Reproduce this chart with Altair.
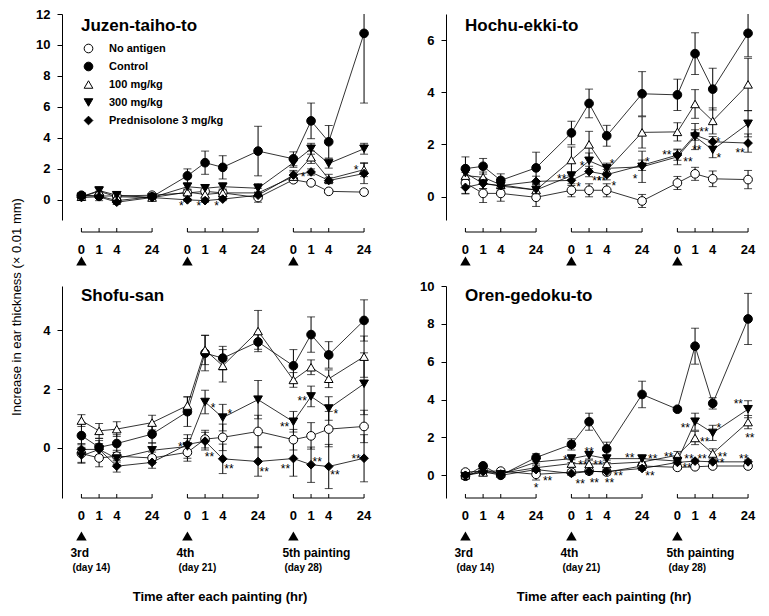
import altair as alt
import pandas as pd

# ---------------- data ----------------
hours = [0, 1, 4, 24]
paintings = ["3rd", "4th", "5th painting"]
days = ["(day 14)", "(day 21)", "(day 28)"]
series = ["No antigen", "Control", "100 mg/kg", "300 mg/kg", "Prednisolone 3 mg/kg"]
panel_names = ["Juzen-taiho-to", "Hochu-ekki-to", "Shofu-san", "Oren-gedoku-to"]

# 12 time points per series: (3rd: 0,1,4,24h), (4th: 0,1,4,24h), (5th: 0,1,4,24h)
juzen_mean = {
    "No antigen": [0.25, 0.25, 0.25, 0.3, 0.45, 0.55, 0.45, 0.15, 1.3, 1.1, 0.55, 0.5],
    "Control": [0.3, 0.25, -0.05, 0.2, 1.55, 2.4, 2.1, 3.15, 2.65, 5.1, 3.75, 10.75],
    "100 mg/kg": [0.2, 0.55, 0.2, 0.15, 0.5, 0.35, 0.45, 0.45, 1.5, 2.75, 1.35, 1.95],
    "300 mg/kg": [0.2, 0.6, 0.3, 0.15, 0.85, 0.75, 0.85, 0.75, 2.4, 3.3, 2.35, 3.3],
    "Prednisolone 3 mg/kg": [0.15, 0.2, -0.15, 0.15, 0.0, -0.05, 0.05, 0.3, 1.6, 1.8, 1.25, 1.7],
}
juzen_err = {
    "No antigen": [0.1, 0.1, 0.1, 0.1, 0.2, 0.2, 0.2, 0.3, 0.15, 0.15, 0.1, 0.1],
    "Control": [0.1, 0.3, 0.2, 0.1, 0.45, 0.75, 0.75, 1.6, 0.45, 1.15, 1.05, 4.5],
    "100 mg/kg": [0.1, 0.25, 0.15, 0.1, 0.2, 0.2, 0.25, 0.3, 0.3, 0.4, 0.3, 0.45],
    "300 mg/kg": [0.1, 0.25, 0.2, 0.1, 0.2, 0.2, 0.25, 0.3, 0.3, 0.35, 0.3, 0.35],
    "Prednisolone 3 mg/kg": [0.1, 0.1, 0.15, 0.1, 0.1, 0.1, 0.1, 0.2, 0.3, 0.2, 0.2, 0.65],
}
hochu_mean = {
    "No antigen": [0.52, 0.12, 0.12, -0.03, 0.24, 0.24, 0.24, -0.17, 0.52, 0.87, 0.68, 0.65],
    "Control": [1.07, 1.16, 0.62, 1.1, 2.44, 3.57, 2.33, 3.94, 3.9, 5.48, 4.12, 6.26],
    "100 mg/kg": [0.8, 0.74, 0.45, 0.25, 1.4, 2.0, 1.0, 2.46, 2.48, 3.55, 2.9, 4.3],
    "300 mg/kg": [0.9, 0.5, 0.4, 0.25, 0.8, 1.37, 1.08, 1.14, 1.52, 2.3, 1.79, 2.79],
    "Prednisolone 3 mg/kg": [0.35, 0.5, 0.42, 0.58, 0.62, 0.96, 0.84, 1.2, 1.59, 2.36, 2.1, 2.05],
}
hochu_err = {
    "No antigen": [0.4, 0.35, 0.3, 0.35, 0.25, 0.25, 0.25, 0.25, 0.25, 0.25, 0.3, 0.35],
    "Control": [0.45, 0.3, 0.25, 0.6, 0.45, 0.55, 0.4, 0.85, 0.6, 0.8, 0.8, 0.9],
    "100 mg/kg": [0.2, 0.2, 0.2, 0.2, 0.5, 0.5, 0.2, 0.6, 0.35, 0.55, 0.5, 1.0],
    "300 mg/kg": [0.2, 0.2, 0.2, 0.2, 0.15, 0.3, 0.2, 0.6, 0.3, 0.5, 0.3, 0.5],
    "Prednisolone 3 mg/kg": [0.25, 0.2, 0.2, 0.2, 0.2, 0.2, 0.2, 0.2, 0.2, 0.2, 0.2, 0.35],
}
shofu_mean = {
    "No antigen": [-0.19, -0.34, -0.28, -0.34, -0.15, 0.3, 0.36, 0.56, 0.28, 0.41, 0.64, 0.73],
    "Control": [0.42, 0.02, 0.15, 0.47, 1.23, 3.22, 3.05, 3.6, 2.79, 3.85, 3.16, 4.33],
    "100 mg/kg": [0.93, 0.58, 0.64, 0.86, 1.44, 3.33, 2.79, 3.97, 2.31, 2.74, 2.35, 3.1],
    "300 mg/kg": [-0.27, -0.05, -0.36, -0.08, 0.05, 1.56, 1.03, 1.64, 0.89, 1.75, 1.34, 2.18],
    "Prednisolone 3 mg/kg": [-0.05, -0.05, -0.62, -0.49, 0.12, 0.23, -0.37, -0.46, -0.36, -0.57, -0.63, -0.35],
}
shofu_err = {
    "No antigen": [0.3, 0.3, 0.2, 0.2, 0.3, 0.3, 0.45, 0.55, 0.35, 0.45, 0.6, 0.55],
    "Control": [0.4, 0.3, 0.3, 0.3, 0.5, 0.6, 0.4, 0.25, 0.55, 0.6, 0.45, 0.7],
    "100 mg/kg": [0.2, 0.25, 0.25, 0.25, 0.3, 0.5, 0.55, 0.7, 0.25, 0.25, 0.3, 0.7],
    "300 mg/kg": [0.25, 0.3, 0.2, 0.25, 0.4, 0.4, 0.45, 0.65, 0.35, 0.35, 0.4, 1.05],
    "Prednisolone 3 mg/kg": [0.2, 0.2, 0.2, 0.2, 0.2, 0.3, 0.5, 0.5, 0.6, 0.6, 0.75, 0.8],
}
oren_mean = {
    "No antigen": [0.17, 0.22, 0.22, 0.05, 0.16, 0.22, 0.17, 0.49, 0.42, 0.45, 0.49, 0.49],
    "Control": [-0.05, 0.5, 0.0, 0.94, 1.63, 2.83, 1.4, 4.27, 3.49, 6.82, 3.8, 8.26],
    "100 mg/kg": [0.0, 0.15, 0.1, 0.4, 0.62, 0.6, 0.6, 0.7, 1.06, 1.97, 1.15, 2.81],
    "300 mg/kg": [-0.05, 0.3, 0.05, 0.7, 0.88, 1.06, 0.88, 0.88, 0.75, 2.83, 2.24, 3.49],
    "Prednisolone 3 mg/kg": [0.0, 0.2, 0.0, 0.3, 0.1, 0.2, 0.2, 0.36, 0.68, 0.75, 0.71, 0.71],
}
oren_err = {
    "No antigen": [0.1, 0.1, 0.1, 0.3, 0.15, 0.15, 0.15, 0.15, 0.1, 0.1, 0.1, 0.1],
    "Control": [0.1, 0.1, 0.1, 0.2, 0.3, 0.45, 0.35, 0.7, 0.1, 0.95, 0.3, 1.35],
    "100 mg/kg": [0.1, 0.1, 0.1, 0.2, 0.2, 0.2, 0.2, 0.2, 0.2, 0.35, 0.25, 0.35],
    "300 mg/kg": [0.1, 0.1, 0.1, 0.2, 0.2, 0.2, 0.2, 0.2, 0.2, 0.45, 0.4, 0.45],
    "Prednisolone 3 mg/kg": [0.1, 0.1, 0.1, 0.1, 0.1, 0.1, 0.1, 0.1, 0.1, 0.1, 0.1, 0.1],
}

# significance marks: (time-point index, value, horizontal shift in x units, text)
juzen_stars = [(4, -0.2, -0.35, "*"), (5, -0.2, -0.35, "*"), (6, -0.2, -0.35, "*"),
               (9, 1.7, -0.45, "*"), (11, 2.1, -0.45, "*")]
hochu_stars = [(4, 0.8, -0.55, "**"), (4, 0.48, 0.4, "*"), (5, 1.27, -0.4, "*"),
               (5, 0.7, 0.45, "**"), (6, 0.7, -0.3, "**"), (6, 1.35, 0.3, "*"),
               (6, 0.5, 0.4, "*"), (7, 1.45, 0.3, "*"), (7, 0.8, -0.4, "*"),
               (8, 1.7, -0.6, "**"), (8, 1.45, 0.6, "**"), (9, 2.6, 0.5, "**"),
               (9, 1.9, 0.1, "**"), (10, 2.2, 0.3, "*"), (10, 1.6, 0.35, "*"),
               (11, 1.8, -0.45, "**")]
shofu_stars = [(4, 0.15, -0.4, "*"), (5, 1.45, 0.45, "*"), (6, 1.25, 0.4, "*"),
               (8, 0.8, -0.5, "**"), (9, 1.7, -0.5, "**"), (10, 1.25, 0.4, "*"),
               (5, -0.2, 0.25, "**"), (6, -0.62, 0.35, "**"), (7, -0.7, 0.35, "**"),
               (8, -0.6, -0.45, "**"), (9, -0.37, 0.35, "**"), (10, -0.82, 0.35, "**"),
               (11, -0.27, -0.45, "**")]
oren_stars = [(3, -0.5, 0.0, "*"), (3, -0.15, 0.65, "**"), (4, 0.95, -0.35, "*"),
              (4, 0.68, 0.65, "**"), (4, -0.28, 0.5, "**"), (5, 1.4, 0.0, "**"),
              (5, 0.68, 0.5, "**"), (5, -0.27, 0.3, "**"), (6, -0.27, 0.15, "**"),
              (6, 0.1, 0.65, "**"), (7, 1.06, -0.7, "**"), (7, 1.0, 0.6, "**"),
              (7, 0.1, 0.45, "**"), (8, 1.15, -0.5, "**"), (8, 1.0, 0.65, "**"),
              (8, 0.54, 0.55, "**"), (9, 2.66, -0.55, "**"), (9, 1.93, 0.55, "**"),
              (9, 1.0, 0.4, "**"), (10, 2.66, 0.35, "*"), (10, 1.1, 0.55, "**"),
              (10, 0.8, 0.4, "**"), (11, 3.9, -0.55, "**"), (11, 2.15, 0.1, "**"),
              (11, 1.0, -0.25, "**")]

means = [juzen_mean, hochu_mean, shofu_mean, oren_mean]
errs = [juzen_err, hochu_err, shofu_err, oren_err]
stars = [juzen_stars, hochu_stars, shofu_stars, oren_stars]
y_domains = [[-1.3, 12], [-0.9, 7], [-1.7, 5.5], [-1.2, 10]]
y_ticks = [[0, 2, 4, 6, 8, 10, 12], [0, 2, 4, 6], [0, 2, 4], [0, 2, 4, 6, 8, 10]]

# ---------------- layout helpers ----------------
FONT = "Liberation Sans"
SLOT = {0: 0, 1: 1, 4: 2, 24: 4}
GROUP_STEP = 6
W = 310
XDOM = [-1.1, 16.45]
shapes = ["circle", "circle", "triangle-up", "triangle-down", "diamond"]
fills = ["white", "black", "white", "black", "black"]
strokes = ["black"] * 5


def pos_of(i):
    g, k = divmod(i, 4)
    return g * GROUP_STEP + SLOT[hours[k]]


def panel(pi, H, top_row):
    rows = []
    for s in series:
        m = means[pi][s]
        e = errs[pi][s]
        for i in range(12):
            rows.append(dict(series=s, pos=pos_of(i), y=m[i], lo=m[i] - e[i], hi=m[i] + e[i]))
    df = pd.DataFrame(rows)
    xsc = alt.Scale(domain=XDOM, nice=False, zero=False)
    ysc = alt.Scale(domain=y_domains[pi], nice=False, zero=False)
    X = alt.X("pos:Q", scale=xsc, axis=None)
    yaxis = alt.Axis(values=y_ticks[pi], grid=False, domainColor="black", tickColor="black",
                     tickSize=5, labelFont=FONT, labelFontWeight="bold", labelFontSize=13,
                     labelColor="black", labelPadding=7, domainWidth=1, title=None,
                     labelOverlap=False)

    def Yf(field):
        return alt.Y(field, scale=ysc, axis=yaxis, title=None)

    base = alt.Chart(df)
    lines = base.mark_line(color="black", strokeWidth=0.8).encode(
        x=X, y=Yf("y:Q"), detail="series:N", order="pos:Q")
    bars = base.mark_rule(color="black", strokeWidth=1, clip=True).encode(
        x=X, y=Yf("lo:Q"), y2="hi:Q")
    cap_lo = base.mark_tick(orient="horizontal", color="black", size=8, thickness=1, clip=True).encode(
        x=X, y=Yf("lo:Q"))
    cap_hi = base.mark_tick(orient="horizontal", color="black", size=8, thickness=1, clip=True).encode(
        x=X, y=Yf("hi:Q"))

    if pi == 0:
        leg = alt.Legend(orient="none", legendX=21, legendY=29, title=None, labelFont=FONT,
                         labelFontWeight="bold", labelFontSize=11, labelColor="black",
                         rowPadding=5, labelOffset=15, padding=0, symbolSize=75,
                         symbolStrokeWidth=1)
    else:
        leg = None
    pts = base.mark_point(filled=True, strokeWidth=1, opacity=1, size=75).encode(
        x=X, y=Yf("y:Q"),
        shape=alt.Shape("series:N", scale=alt.Scale(domain=series, range=shapes), legend=leg),
        fill=alt.Fill("series:N", scale=alt.Scale(domain=series, range=fills), legend=leg),
        stroke=alt.Stroke("series:N", scale=alt.Scale(domain=series, range=strokes), legend=leg),
    )

    sdf = pd.DataFrame([dict(pos=pos_of(i) + dx, y=v, t=t) for (i, v, dx, t) in stars[pi]])
    star_layer = alt.Chart(sdf).mark_text(font=FONT, fontSize=12, color="black", dy=3,
                                          baseline="middle").encode(
        x=alt.X("pos:Q", scale=xsc, axis=None), y=Yf("y:Q"), text="t:N")

    # x "axis": bracket per painting, tick marks, hour labels, arrows
    off = 12 if top_row else 0
    arrow_y = H + 41 if top_row else H + 38
    gdf = pd.DataFrame(dict(x0=[g * GROUP_STEP for g in range(3)],
                            x1=[g * GROUP_STEP + SLOT[24] for g in range(3)],
                            p=paintings, d=days))
    tdf = pd.DataFrame(dict(pos=[pos_of(i) for i in range(12)],
                            lab=[str(hours[i % 4]) for i in range(12)]))
    bracket = alt.Chart(gdf).mark_rule(color="black", strokeWidth=1).encode(
        x=alt.X("x0:Q", scale=xsc, axis=None), x2="x1:Q", y=alt.value(H + off))
    bticks = alt.Chart(tdf).mark_rule(color="black", strokeWidth=1).encode(
        x=alt.X("pos:Q", scale=xsc, axis=None), y=alt.value(H + off - 4), y2=alt.value(H + off))
    blabels = alt.Chart(tdf).mark_text(font=FONT, fontWeight="bold", fontSize=13, color="black",
                                       baseline="middle").encode(
        x=alt.X("pos:Q", scale=xsc, axis=None), y=alt.value(H + off + 18), text="lab:N")
    arrows = alt.Chart(gdf).mark_point(shape="triangle-up", filled=True, color="black",
                                       size=110, opacity=1).encode(
        x=alt.X("x0:Q", scale=xsc, axis=None), y=alt.value(arrow_y))

    title = alt.Chart(pd.DataFrame(dict(t=[panel_names[pi]]))).mark_text(
        font=FONT, fontWeight="bold", fontSize=17, color="black", align="left",
        baseline="middle").encode(x=alt.value(19), y=alt.value(12 if top_row else 10), text="t:N")

    layers = [lines, bars, cap_lo, cap_hi, pts, star_layer, bracket, bticks, blabels, arrows, title]

    if not top_row:
        plab = alt.Chart(gdf).mark_text(font=FONT, fontWeight="bold", fontSize=12, color="black",
                                        align="left", baseline="middle", dx=-11).encode(
            x=alt.X("x0:Q", scale=xsc, axis=None), y=alt.value(H + 55), text="p:N")
        dlab = alt.Chart(gdf).mark_text(font=FONT, fontWeight="bold", fontSize=10, color="black",
                                        align="left", baseline="middle", dx=-9).encode(
            x=alt.X("x0:Q", scale=xsc, axis=None), y=alt.value(H + 70), text="d:N")
        xt = alt.Chart(pd.DataFrame(dict(t=["Time after each painting (hr)"]))).mark_text(
            font=FONT, fontWeight="bold", fontSize=13, color="black", align="center",
            baseline="middle").encode(x=alt.value(158), y=alt.value(H + 99), text="t:N")
        layers += [plab, dlab, xt]

    if pi == 0:
        yt = alt.Chart(pd.DataFrame(dict(t=["Increase in ear thickness (\u00d7 0.01 mm)"]))).mark_text(
            font=FONT, fontSize=13, color="black", align="center", baseline="middle",
            angle=270).encode(x=alt.value(-45), y=alt.value(293), text="t:N")
        layers.append(yt)

    return alt.layer(*layers).properties(width=W, height=H)


TL = panel(0, 206, True)
TR = panel(1, 206, True)
BL = panel(2, 212, False)
BR = panel(3, 212, False)

chart = alt.concat(TL, TR, BL, BR, columns=2, spacing={"row": 66, "column": 74},
                   bounds="flush").resolve_scale(
    x="independent", y="independent", shape="independent", fill="independent",
    stroke="independent").resolve_legend(
    shape="independent", fill="independent", stroke="independent").configure_view(
    stroke=None).properties(
    padding={"left": 3, "top": 0, "right": 0, "bottom": 0}, background="white")

chart.save("out.html", embed_options={"renderer": "svg", "actions": False})
